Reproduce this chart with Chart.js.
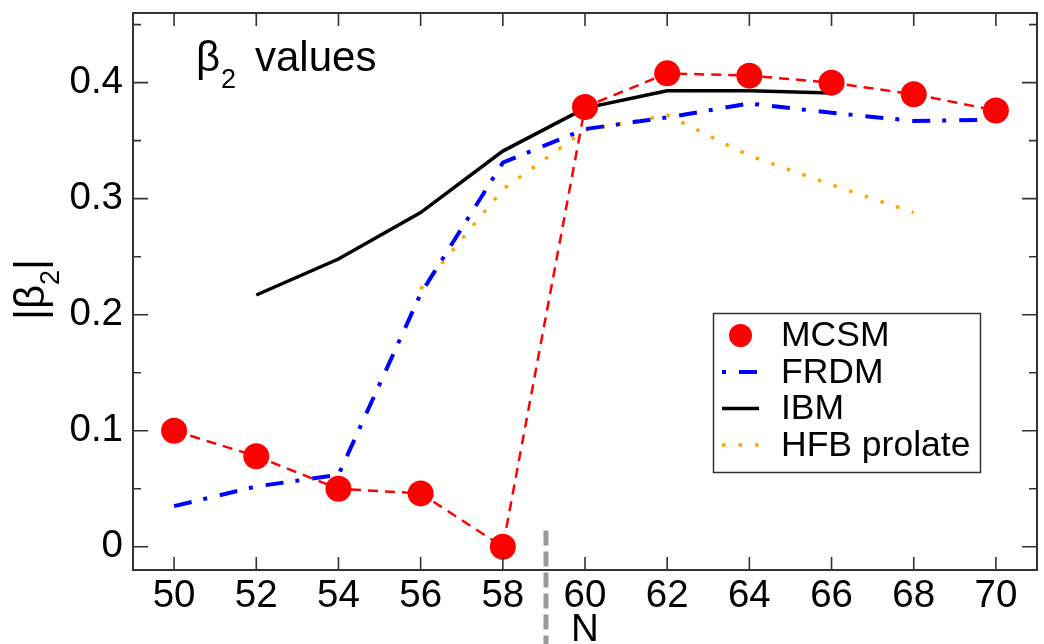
<!DOCTYPE html>
<html><head><meta charset="utf-8">
<script src="https://cdn.jsdelivr.net/npm/chart.js@4.4.1/dist/chart.umd.min.js"></script>
<style>
html,body{margin:0;padding:0;background:#fff;overflow:hidden;width:1044px;height:644px}
#wrap{width:1050px;height:650px;position:relative}
</style></head>
<body><div id="wrap"><canvas id="c" width="1050" height="650"></canvas></div>
<script>
// ---- data ----
const neutronNumbers = [50, 52, 54, 56, 58, 60, 62, 64, 66, 68, 70];
const mcsmBeta2 = [0.100, 0.078, 0.050, 0.046, 0.000, 0.379, 0.408, 0.406, 0.400, 0.390, 0.376];
const frdmBeta2 = [0.035, 0.052, 0.062, 0.218, 0.331, 0.360, 0.370, 0.382, 0.374, 0.367, 0.368];
const ibmBeta2 = [null, 0.217, 0.248, 0.288, 0.341, 0.378, 0.393, 0.393, 0.391, null, null];
const hfbProlateBeta2 = [null, null, null, 0.222, 0.308, 0.359, 0.372, 0.337, 0.312, 0.288, null];
const seriesLabels = ['MCSM', 'FRDM', 'IBM', 'HFB prolate'];
const xTickValues = [50, 52, 54, 56, 58, 60, 62, 64, 66, 68, 70];
const yTickValues = [0, 0.1, 0.2, 0.3, 0.4];
const yMinorTickValues = [0.05, 0.15, 0.25, 0.35, 0.45];
const subshellN = 59.05;       // vertical grey dashed marker
const subshellMarkerTop = 0.014;
const chartTitle = ['β', '2', 'values'];
const yAxisTitle = ['|β', '2', '|'];
const xAxisTitle = 'N';

const FONT = '"Liberation Sans", Arial, Helvetica, sans-serif';
const pts = arr => neutronNumbers.map((n, i) => ({x: n, y: arr[i]}));
const noPad = s => { s.paddingTop = 0; s.paddingBottom = 0; s.paddingLeft = 0; s.paddingRight = 0; };

const decor = {
  id: 'decor',
  afterDraw(chart) {
    const {ctx, chartArea: a, scales: {x, y}} = chart;
    ctx.save();
    // frame
    ctx.strokeStyle = '#333';
    ctx.lineWidth = 2;
    ctx.strokeRect(a.left, a.top, a.right - a.left, a.bottom - a.top);
    // ticks
    ctx.lineWidth = 1.6;
    ctx.beginPath();
    xTickValues.forEach(v => {
      const px = x.getPixelForValue(v);
      ctx.moveTo(px, a.bottom); ctx.lineTo(px, a.bottom - 13);
      ctx.moveTo(px, a.top); ctx.lineTo(px, a.top + 13);
    });
    yTickValues.forEach(v => {
      const py = y.getPixelForValue(v);
      ctx.moveTo(a.left, py); ctx.lineTo(a.left + 15, py);
      ctx.moveTo(a.right, py); ctx.lineTo(a.right - 15, py);
    });
    yMinorTickValues.forEach(v => {
      const py = y.getPixelForValue(v);
      ctx.moveTo(a.left, py); ctx.lineTo(a.left + 8, py);
      ctx.moveTo(a.right, py); ctx.lineTo(a.right - 8, py);
    });
    ctx.stroke();

    // grey dashed marker near N = 59
    const mx = x.getPixelForValue(subshellN);
    ctx.strokeStyle = '#999';
    ctx.lineWidth = 5;
    ctx.setLineDash([15, 6]);
    ctx.beginPath();
    ctx.moveTo(mx, y.getPixelForValue(subshellMarkerTop));
    ctx.lineTo(mx, chart.height);
    ctx.stroke();
    ctx.setLineDash([]);

    // chart title with subscript
    ctx.fillStyle = '#000';
    ctx.textBaseline = 'alphabetic';
    ctx.textAlign = 'left';
    ctx.font = '42px ' + FONT;
    ctx.fillText(chartTitle[0], 196, 71);
    ctx.font = '27px ' + FONT;
    ctx.fillText(chartTitle[1], 221, 88);
    ctx.font = '42px ' + FONT;
    ctx.fillText(chartTitle[2], 255, 71);

    // y axis title, rotated, with subscript
    ctx.save();
    ctx.translate(44, 289.5);
    ctx.rotate(-Math.PI / 2);
    ctx.font = '42px ' + FONT;
    const w0 = ctx.measureText(yAxisTitle[0]).width;
    const w2 = ctx.measureText(yAxisTitle[2]).width;
    ctx.font = '27px ' + FONT;
    const w1 = ctx.measureText(yAxisTitle[1]).width;
    let tx = -(w0 + w1 + w2) / 2;
    ctx.font = '42px ' + FONT;
    ctx.fillText(yAxisTitle[0], tx, 0); tx += w0;
    ctx.font = '27px ' + FONT;
    ctx.fillText(yAxisTitle[1], tx, 15); tx += w1;
    ctx.font = '42px ' + FONT;
    ctx.fillText(yAxisTitle[2], tx, 0);
    ctx.restore();

    // legend
    const L = {x: 713.5, y: 313.5, w: 267, h: 159};
    ctx.fillStyle = '#fff';
    ctx.fillRect(L.x, L.y, L.w, L.h);
    ctx.strokeStyle = '#333';
    ctx.lineWidth = 1.5;
    ctx.strokeRect(L.x, L.y, L.w, L.h);
    const rowY = i => 336.5 + i * 36.5;
    chart.data.datasets.forEach((ds, i) => {
      const cy = rowY(i) - 1;
      ctx.save();
      if (ds.pointRadius > 0) {
        ctx.fillStyle = ds.pointBackgroundColor;
        ctx.beginPath();
        ctx.arc(740.5, cy, 11.5, 0, Math.PI * 2);
        ctx.fill();
      } else {
        ctx.strokeStyle = ds.borderColor;
        ctx.lineWidth = ds.borderWidth;
        ctx.setLineDash(ds.borderDash || []);
        ctx.lineDashOffset = ds.legendDashOffset || 0;
        ctx.beginPath();
        ctx.moveTo(722, cy); ctx.lineTo(759, cy);
        ctx.stroke();
      }
      ctx.restore();
      ctx.fillStyle = '#000';
      ctx.font = '35.5px ' + FONT;
      ctx.textBaseline = 'middle';
      ctx.fillText(ds.label, 781, rowY(i));
    });
    ctx.restore();
  }
};

new Chart(document.getElementById('c'), {
  type: 'line',
  data: {
    datasets: [
      {label: seriesLabels[0], data: pts(mcsmBeta2), borderColor: '#ff0000', borderWidth: 2.5,
       borderDash: [10, 7], pointRadius: 13, pointHoverRadius: 13, pointBorderWidth: 0,
       pointBackgroundColor: '#ff0000', pointBorderColor: '#ff0000'},
      {label: seriesLabels[1], data: pts(frdmBeta2), borderColor: '#0000ff', borderWidth: 4,
       borderDash: [18, 12, 4, 13], legendDashOffset: 30, pointRadius: 0},
      {label: seriesLabels[2], data: pts(ibmBeta2), borderColor: '#000000', borderWidth: 3.5,
       pointRadius: 0},
      {label: seriesLabels[3], data: pts(hfbProlateBeta2), borderColor: '#ffa500', borderWidth: 3.5,
       borderDash: [3.5, 13], pointRadius: 0}
    ]
  },
  options: {
    responsive: false,
    animation: false,
    devicePixelRatio: 1,
    layout: {padding: {top: 10, right: 5, left: 0, bottom: 0}},
    plugins: {legend: {display: false}, tooltip: {enabled: false}},
    elements: {line: {tension: 0, fill: false}},
    scales: {
      x: {
        type: 'linear', min: 49, max: 71,
        afterBuildTicks: s => { s.ticks = xTickValues.map(v => ({value: v})); },
        afterFit: s => { s.height = 80; noPad(s); },
        grid: {display: false, drawTicks: false, tickLength: 0},
        border: {display: false},
        ticks: {font: {family: FONT, size: 38.5, lineHeight: 1}, color: '#000', padding: 7,
                maxRotation: 0, autoSkip: false, callback: v => String(v)},
        title: {display: true, text: xAxisTitle, color: '#000',
                font: {family: FONT, size: 38.5, lineHeight: 1}, padding: 0}
      },
      y: {
        type: 'linear', min: -0.02, max: 0.46,
        afterBuildTicks: s => { s.ticks = yTickValues.map(v => ({value: v})); },
        afterFit: s => { s.width = 133; noPad(s); },
        grid: {display: false, drawTicks: false, tickLength: 0},
        border: {display: false},
        ticks: {font: {family: FONT, size: 38.5, lineHeight: 1}, color: '#000', padding: 10,
                callback: v => v === 0 ? '0' : v.toFixed(1)}
      }
    }
  },
  plugins: [decor]
});
</script>
</body></html>
